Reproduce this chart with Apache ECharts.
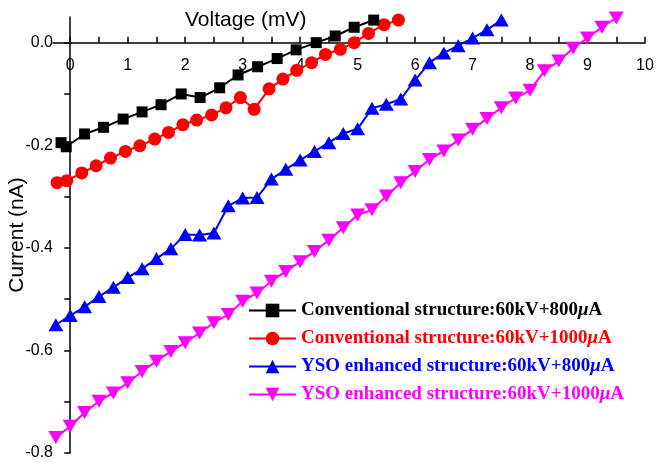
<!DOCTYPE html>
<html>
<head>
<meta charset="utf-8">
<script src="https://cdn.jsdelivr.net/npm/echarts@6/dist/echarts.min.js"></script>
<style>html,body{margin:0;padding:0;background:#fff;}#chart{width:656px;height:465px;}</style>
</head>
<body>
<div id="chart"></div>
<script>
var seriesNames = ['Conventional structure:60kV+800\u03bcA','Conventional structure:60kV+1000\u03bcA','YSO enhanced structure:60kV+800\u03bcA','YSO enhanced structure:60kV+1000\u03bcA'];
var blackX = [-0.16,-0.07,0.25,0.58,0.92,1.25,1.58,1.93,2.26,2.60,2.92,3.26,3.60,3.93,4.28,4.61,4.94,5.28];
var blackY = [-0.195,-0.203,-0.178,-0.165,-0.149,-0.135,-0.121,-0.100,-0.107,-0.088,-0.063,-0.047,-0.031,-0.014,0.000,0.013,0.030,0.044];
var redX = [-0.23,-0.06,0.20,0.45,0.70,0.96,1.21,1.47,1.71,1.96,2.20,2.46,2.71,2.96,3.20,3.46,3.70,3.94,4.20,4.44,4.70,4.94,5.19,5.46,5.71];
var redY = [-0.273,-0.269,-0.254,-0.240,-0.225,-0.212,-0.201,-0.188,-0.175,-0.160,-0.151,-0.141,-0.127,-0.107,-0.130,-0.090,-0.071,-0.054,-0.039,-0.023,-0.013,0.000,0.018,0.035,0.044];
var blueX = [-0.25,0,0.25,0.5,0.75,1,1.25,1.5,1.75,2,2.25,2.5,2.75,3,3.25,3.5,3.75,4,4.25,4.5,4.75,5,5.25,5.5,5.75,6,6.25,6.5,6.75,7,7.25,7.5];
var blueY = [-0.550,-0.532,-0.515,-0.495,-0.477,-0.458,-0.441,-0.421,-0.402,-0.374,-0.375,-0.371,-0.318,-0.303,-0.302,-0.266,-0.247,-0.229,-0.212,-0.195,-0.177,-0.168,-0.128,-0.120,-0.110,-0.073,-0.039,-0.020,-0.006,0.009,0.025,0.044];
var magX = [-0.25,0,0.25,0.5,0.75,1,1.25,1.5,1.75,2,2.25,2.5,2.75,3,3.25,3.5,3.75,4,4.25,4.5,4.75,5,5.25,5.5,5.75,6,6.25,6.5,6.75,7,7.25,7.5,7.75,8,8.25,8.5,8.75,9,9.25,9.5];
var magY = [-0.770,-0.748,-0.721,-0.699,-0.683,-0.663,-0.641,-0.621,-0.602,-0.585,-0.566,-0.546,-0.530,-0.504,-0.488,-0.465,-0.446,-0.427,-0.407,-0.385,-0.361,-0.336,-0.326,-0.299,-0.273,-0.251,-0.228,-0.211,-0.190,-0.169,-0.148,-0.127,-0.108,-0.093,-0.055,-0.036,-0.011,0.009,0.030,0.048];
var xTickLabels = [0,1,2,3,4,5,6,7,8,9,10];
var xTickMarks = [0,0.5,1,1.5,2,2.5,3,3.5,4,4.5,5,5.5,6,6.5,7,7.5,8,8.5,9,9.5,10];
var yTickLabels = [-0.8,-0.6,-0.4,-0.2,0.0];
var yTickMarks = [-0.8,-0.7,-0.6,-0.5,-0.4,-0.3,-0.2,-0.1,0.0];
var colors = ['#000000','#ff0000','#0000ff','#ff00ff'];

function zip(xs, ys){ return xs.map(function(x,i){ return [x, ys[i]]; }); }

var chart = echarts.init(document.getElementById('chart'), null, {renderer:'canvas'});
var sans = 'Liberation Sans, Arial, sans-serif';
var serif = 'Liberation Serif, Times New Roman, serif';
var legendFont = 19;
var richStyles = {};
var keys = ['k','r','b','m'];
keys.forEach(function(k,i){
  richStyles[k] = {color: colors[i], fontFamily: serif, fontWeight:'bold', fontSize:legendFont};
  richStyles[k+'i'] = {color: colors[i], fontFamily: serif, fontWeight:'bold', fontStyle:'italic', fontSize:legendFont};
});

var gridTop = 17, gridBottom = 12, H = 465;
var yMin = -0.8, yMax = 0.05;
// x axis drawn at y = 0 (position 'top', shifted down into the grid)
var zeroOffset = -(H - gridTop - gridBottom) * (yMax - 0) / (yMax - yMin);

var option = {
  animation: false,
  backgroundColor: '#ffffff',
  title: {
    text: 'Voltage (mV)', left: 185, top: 10, padding: 0,
    textStyle: {fontFamily: sans, fontSize: 21, fontWeight: 'normal', color: '#000'}
  },
  grid: {left: 53, right: 11, top: gridTop, bottom: gridBottom, containLabel: false, outerBoundsMode: 'none'},
  legend: {
    orient: 'vertical', left: 248, top: 301, padding: 0, itemWidth: 47, itemHeight: 17, itemGap: 9,
    data: seriesNames,
    textStyle: {fontFamily: serif, fontWeight: 'bold', fontSize: legendFont, lineHeight: 18, rich: richStyles},
    formatter: function(name){
      var i = seriesNames.indexOf(name);
      var k = keys[i];
      var p = name.split('\u03bc');
      return '{' + k + '|' + p[0] + '}{' + k + 'i|\u03bc}{' + k + '|' + p[1] + '}';
    }
  },
  xAxis: {
    type: 'value', min: -0.3, max: 10, position: 'top', offset: zeroOffset,
    axisLine: {onZero: false, lineStyle: {color: '#000', width: 1.5}},
    axisTick: {inside: false, length: 6, lineStyle: {color:'#000', width: 1.5}, customValues: xTickMarks},
    axisLabel: {inside: true, margin: 15, color: '#000', fontFamily: sans, fontSize: 16, customValues: xTickLabels,
      formatter: function(v){ return String(Math.round(v)); }},
    splitLine: {show: false}
  },
  yAxis: {
    type: 'value', min: yMin, max: yMax,
    name: 'Current (nA)', nameLocation: 'middle', nameGap: 25, nameMoveOverlap: false,
    nameTextStyle: {fontFamily: sans, fontSize: 21, color: '#000'},
    axisLine: {onZero: true, lineStyle: {color: '#000', width: 1.5}},
    axisTick: {inside: false, length: 6, lineStyle: {color:'#000', width: 1.5}, customValues: yTickMarks},
    axisLabel: {margin: 0, color: '#000', fontFamily: sans, fontSize: 16, customValues: yTickLabels,
      formatter: function(v){ return v.toFixed(1); }},
    splitLine: {show: false}
  },
  series: [
    {name: seriesNames[0], type: 'line', data: zip(blackX, blackY), symbol: 'rect', symbolSize: 11,
      itemStyle: {color: colors[0]}, lineStyle: {color: colors[0], width: 2}, z: 5},
    {name: seriesNames[1], type: 'line', data: zip(redX, redY), symbol: 'circle', symbolSize: 13,
      itemStyle: {color: colors[1]}, lineStyle: {color: colors[1], width: 2}, z: 4},
    {name: seriesNames[2], type: 'line', data: zip(blueX, blueY), symbol: 'triangle', symbolSize: [15,13],
      itemStyle: {color: colors[2]}, lineStyle: {color: colors[2], width: 2}, z: 3},
    {name: seriesNames[3], type: 'line', data: zip(magX, magY), symbol: 'triangle', symbolRotate: 180, symbolSize: [15,13],
      itemStyle: {color: colors[3]}, lineStyle: {color: colors[3], width: 2}, z: 2}
  ]
};
chart.setOption(option);
</script>
</body>
</html>
